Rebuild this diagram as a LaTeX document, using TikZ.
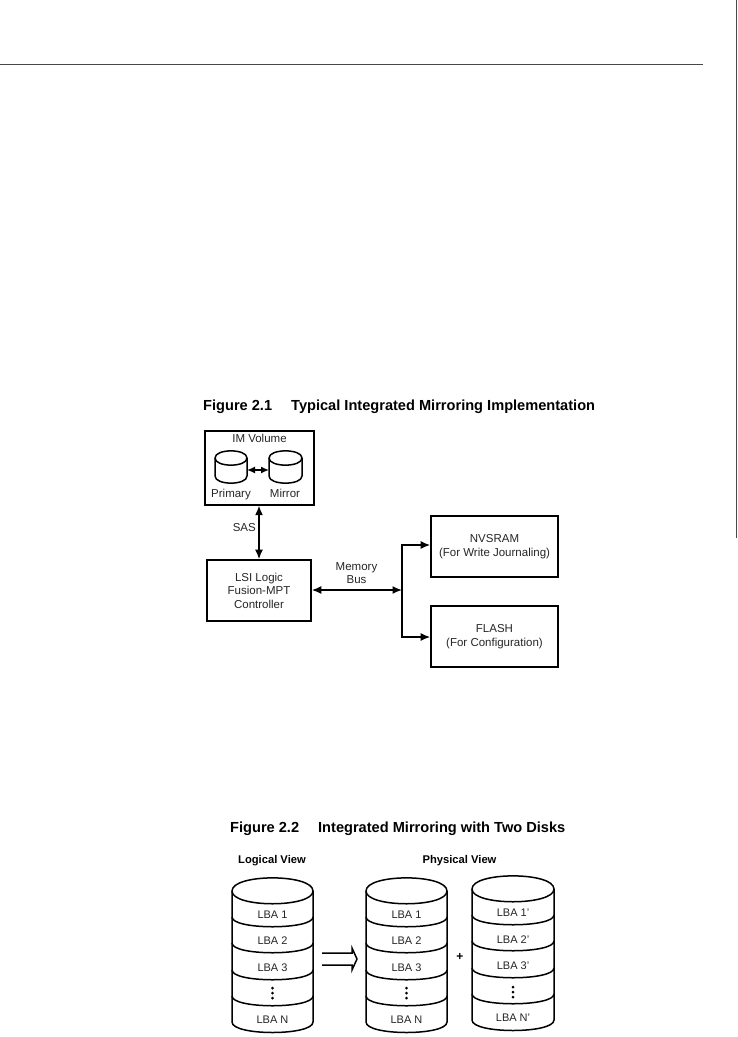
\documentclass[tikz,border=0pt]{standalone}
\usepackage{fontspec}
\setmainfont{Liberation Sans}
\usetikzlibrary{arrows.meta}
\definecolor{ink}{gray}{0.15}
\definecolor{rulecol}{gray}{0.28}
\tikzset{
  x=1pt,y=-1pt,
  box/.style={draw=black,line width=1.6pt,rectangle,inner sep=0pt,align=center,font=\fontsize{11.5}{13.5}\selectfont,text=ink},
  lbl/.style={inner sep=0pt,align=center,font=\fontsize{11.5}{12.5}\selectfont,text=ink},
  lba/.style={inner sep=0pt,align=center,font=\fontsize{11}{13}\selectfont,text=ink},
  ttl/.style={inner sep=0pt,anchor=west,font=\fontsize{14.6}{16}\selectfont\bfseries,text=black},
  hdr/.style={inner sep=0pt,font=\fontsize{11.2}{13}\selectfont\bfseries,text=black},
  conn/.style={draw=black,line width=1.5pt},
  bi/.style={conn,{Latex[length=9.5pt,width=8pt]}-{Latex[length=9.5pt,width=8pt]}},
  uni/.style={conn,-{Latex[length=9.5pt,width=8pt]}},
  disk/.style={draw=black,line width=1.5pt,line join=round},
  rulel/.style={draw=rulecol,line width=1pt}
}
\newcommand{\smallcyl}[4]{%
  \draw[disk] (#1,#3) .. controls (#1,#3-9.5) and (#2,#3-9.5) .. (#2,#3)
     -- (#2,#4) .. controls (#2,#4+9.5) and (#1,#4+9.5) .. (#1,#4) -- cycle;
  \draw[disk] (#1,#3) .. controls (#1,#3+9.5) and (#2,#3+9.5) .. (#2,#3);
}
\newcommand{\lbadisk}[3]{%
  \begin{scope}[yshift=#3pt]
  \draw[disk] (#1,891) .. controls (#1,873.5) and (#2,873.5) .. (#2,891)
     -- (#2,1022) .. controls (#2,1036) and (#1,1036) .. (#1,1022) -- cycle;
  \draw[disk] (#1,891) .. controls (#1,908) and (#2,908) .. (#2,891);
  \foreach \yy in {917,943,970,996}
    \draw[disk] (#1,\yy) .. controls (#1,\yy+13) and (#2,\yy+13) .. (#2,\yy);
  \end{scope}
}
\newcommand{\vdotsthree}[2]{%
  \foreach \dd in {-5,0,5} \fill[black] (#1,#2+\dd) circle (1.5pt);
}
\begin{document}
\begin{tikzpicture}
\useasboundingbox[fill=white] (0,0) rectangle (737,1037);
\coordinate (ruleA) at (0,64.5); \coordinate (ruleB) at (703,64.5);
\draw[rulel] (ruleA) -- (ruleB);
\coordinate (ruleC) at (736.5,0); \coordinate (ruleD) at (736.5,538);
\draw[rulel] (ruleC) -- (ruleD);

% Figure 2.1
\node[ttl] (t1) at (203,406.5) {Figure 2.1\hspace{19pt}Typical Integrated Mirroring Implementation};
\node[box,minimum width=109pt,minimum height=74pt,line width=1.3pt] (im) at (259.5,468) {};
\node[lbl] (imt) at (259.5,438.5) {IM Volume};
\smallcyl{215}{247}{458}{476}
\smallcyl{269}{302}{458}{476}
\node[lbl,anchor=base] (primt) at (231,497) {Primary};
\node[lbl,anchor=base] (mirrt) at (285,497) {Mirror};
\coordinate (pr) at (247,470); \coordinate (mr) at (269,470);
\draw[conn,{Latex[length=8pt,width=7pt]}-{Latex[length=8pt,width=7pt]}] (pr) -- (mr);
\node[box,minimum width=104pt,minimum height=61pt] (lsi) at (259,590.5) {\raisebox{0pt}{LSI Logic}\\Fusion-MPT\\Controller};
\draw[bi] (im.south -| lsi.north) -- (lsi.north);
\node[lbl,anchor=east] (sas) at (256,527.5) {SAS};
\coordinate (junc) at (402,590);
\draw[bi] (lsi.east |- junc) -- (junc);
\node[lbl] (mem) at (356.5,573) {Memory\\Bus};
\node[box,minimum width=127pt,minimum height=61pt] (nv) at (494.5,546.5) {NVSRAM\\(For Write Journaling)};
\node[box,minimum width=127pt,minimum height=61pt] (fl) at (494.5,636.5) {FLASH\\(For Configuration)};
\coordinate (ju) at (402,545);
\coordinate (jd) at (402,637);
\draw[conn,line join=miter] (nv.west |- ju) ++(-8,0) -- (ju) -- (jd) -- ++(8,0);
\draw[uni] (ju) -- (nv.west |- ju);
\draw[uni] (jd) -- (fl.west |- jd);

% Figure 2.2
\node[ttl] (t2) at (230,829) {Figure 2.2\hspace{19pt}Integrated Mirroring with Two Disks};
\node[hdr] (lv) at (272,861) {Logical View};
\node[hdr] (pv) at (459.5,861) {Physical View};
\lbadisk{232}{313}{0}
\lbadisk{366}{447}{0}
\lbadisk{472}{554}{2}
\foreach \xc/\nm in {272.5/a,406.5/b}{
  \node[lba] (l1\nm) at (\xc,915) {LBA 1};
  \node[lba] (l2\nm) at (\xc,941) {LBA 2};
  \node[lba] (l3\nm) at (\xc,968) {LBA 3};
  \node[lba] (ln\nm) at (\xc,1020) {LBA N};
  \vdotsthree{\xc}{993}
}
\node[lba] (l1c) at (513,913) {LBA 1'};
\node[lba] (l2c) at (513,940) {LBA 2'};
\node[lba] (l3c) at (513,966) {LBA 3'};
\node[lba] (lnc) at (513,1018) {LBA N'};
\vdotsthree{513}{992}
\coordinate (ia) at (322,953); \coordinate (ib) at (352,953);
\coordinate (ic) at (322,965); \coordinate (id) at (352,965);
\coordinate (ih) at (352,948); \coordinate (it) at (357,959); \coordinate (ie) at (352,970);
\draw[conn] (ia) -- (ib) -- (ih) -- (it) -- (ie) -- (id) -- (ic);
\node[inner sep=0pt,font=\fontsize{12}{14}\selectfont\bfseries] (plus) at (460,957) {+};
\end{tikzpicture}
\end{document}
